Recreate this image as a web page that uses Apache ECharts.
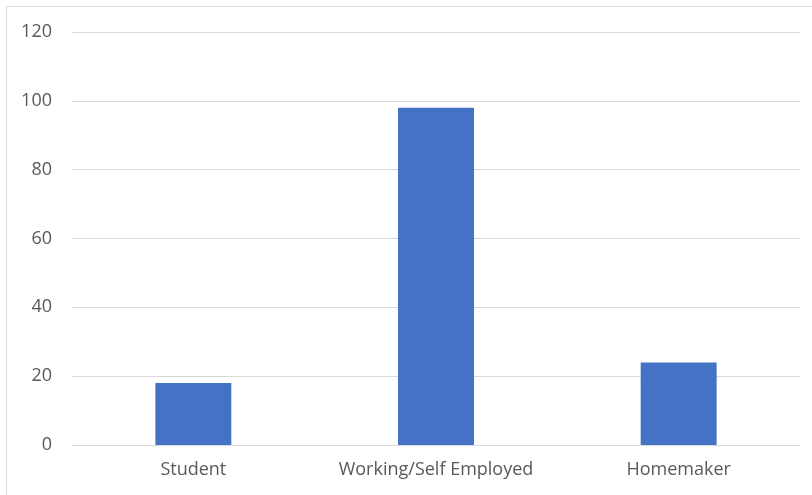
<!DOCTYPE html>
<html><head><meta charset="utf-8">
<script src="https://cdn.jsdelivr.net/npm/echarts@6/dist/echarts.min.js"></script>
<style>html,body{margin:0;padding:0;background:#fff}#c{width:812px;height:495px}</style>
</head><body><div id="c"></div>
<script>
const categories = ["Student", "Working/Self Employed", "Homemaker"];
const values = [18, 98, 24];
const yTicks = [0, 20, 40, 60, 80, 100, 120];

const chart = echarts.init(document.getElementById('c'), null, {renderer: 'canvas'});
chart.setOption({
  animation: false,
  backgroundColor: '#ffffff',
  graphic: [
    {type: 'line', shape: {x1: 6.5, y1: 6.5, x2: 812, y2: 6.5}, style: {stroke: '#d9d9d9', lineWidth: 1}},
    {type: 'line', shape: {x1: 6.5, y1: 6.5, x2: 6.5, y2: 495}, style: {stroke: '#d9d9d9', lineWidth: 1}}
  ],
  grid: {left: 72, right: 12, top: 32, bottom: 50, containLabel: false},
  xAxis: {
    type: 'category', data: categories,
    axisLine: {show: true, lineStyle: {color: '#d9d9d9', width: 1}},
    axisTick: {show: false},
    axisLabel: {interval: 0, hideOverlap: false, color: '#595959', fontSize: 18, fontFamily: 'Open Sans', margin: 16}
  },
  yAxis: {
    type: 'value', min: yTicks[0], max: yTicks[yTicks.length - 1], interval: 20,
    axisLine: {show: false}, axisTick: {show: false},
    splitLine: {lineStyle: {color: '#d9d9d9', width: 1}},
    axisLabel: {color: '#595959', fontSize: 18, fontFamily: 'Open Sans', margin: 20}
  },
  series: [{
    type: 'bar', data: values, barWidth: '31.3%',
    itemStyle: {color: '#4472c4'}
  }]
});
</script></body></html>
